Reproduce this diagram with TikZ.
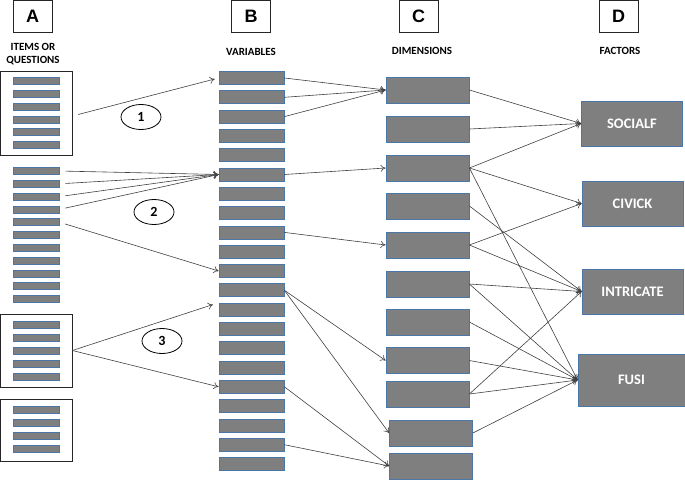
\documentclass[tikz,border=0pt]{standalone}
\usepackage{fontspec}
\setmainfont{Carlito}
\newfontfamily\arialfont{Liberation Sans}
\usetikzlibrary{shapes.geometric,arrows.meta}
\definecolor{boxgray}{HTML}{7F7F7F}
\definecolor{boxblue}{HTML}{4A76A8}
\definecolor{linegray}{HTML}{404040}
\tikzset{
  letterbox/.style={draw=black!85,line width=.8pt,minimum width=39pt,minimum height=32pt,inner sep=0pt,
    font=\arialfont\bfseries\fontsize{18}{18}\selectfont},
  head/.style={font=\bfseries\fontsize{11}{13}\selectfont,align=center,inner sep=0pt},
  bar/.style={draw=boxblue,fill=boxgray,line width=.8pt,inner sep=0pt,minimum width=46pt,minimum height=7pt},
  varbar/.style={bar,minimum width=65pt,minimum height=13pt},
  dimbox/.style={bar,minimum width=83pt,minimum height=26pt},
  facbox/.style={bar,minimum width=101pt,minimum height=45pt,text=white,
    font=\bfseries\fontsize{14.5}{14.5}\selectfont},
  itembox/.style={draw=black!85,line width=.8pt,minimum width=72pt,inner sep=0pt},
  num/.style={ellipse,draw,fill=white,line width=.8pt,minimum width=40pt,minimum height=25pt,inner sep=0pt,
    font=\bfseries\fontsize{14}{14}\selectfont},
  conn/.style={draw=linegray,line width=.6pt,-{To[length=5pt,width=7pt]}}
}
\begin{document}
\begin{tikzpicture}[x=1pt,y=-1pt]
  \useasboundingbox (0,0) rectangle (685,480);
  \foreach \n/\x in {A/32.5,B/251,C/418.5,D/618.5}
    \node[letterbox] (L\n) at (\x,16.8) {\n};
  \foreach \n/\x/\y/\t in {A/33/54.5/{ITEMS OR\\QUESTIONS},B/251/52/VARIABLES,C/422/51/DIMENSIONS,D/620/51/FACTORS}
    \node[head] (H\n) at (\x,\y) {\t};
  \node[itembox,minimum height=84pt] (I1) at (36,113) {};
  \node[itembox,minimum height=73pt] (I3) at (36,350.5) {};
  \node[itembox,minimum height=62pt] (I4) at (36,430) {};
  \foreach \i in {1,...,6} \node[bar] (P\i) at (36,{81+(\i-1)*12.8}) {};
  \foreach \i in {1,...,11} \node[bar] (M\i) at (36,{171+(\i-1)*12.8}) {};
  \foreach \i in {1,...,5} \node[bar] (Q\i) at (36,{325+(\i-1)*13}) {};
  \foreach \i in {1,...,4} \node[bar] (R\i) at (36,{410+(\i-1)*13}) {};
  \foreach \i in {1,...,21} \node[varbar] (V\i) at (251.5,{78+(\i-1)*19.3}) {};
  \foreach \i/\x/\y in {1/427.5/90,2/427.5/129,3/427.5/168,4/427.5/206,5/427.5/245,6/427.5/284,
      7/427.5/322,8/427.5/360.5,9/427.5/394,10/431/433,11/431/466}
    \node[dimbox] (C\i) at (\x,\y) {};
  \node[facbox] (SOCIALF) at (632,123.5) {SOCIALF};
  \node[facbox] (CIVICK) at (632.5,203.5) {CIVICK};
  \node[facbox] (INTRICATE) at (632.5,291.5) {INTRICATE};
  \node[facbox,minimum width=107pt,minimum height=52pt] (FUSI) at (631.5,380) {FUSI};
  \node[num] (N1) at (141,117) {1};
  \node[num] (N2) at (154,212) {2};
  \node[num] (N3) at (162,341) {3};
  \draw[conn,shorten <=6pt,shorten >=4pt] ([yshift=-3pt]I1.east) -- (V1.west);
  \foreach \i in {1,...,4} \draw[conn,shorten <=6pt] (M\i.east) -- (V6.west);
  \draw[conn,shorten <=6pt] (M5.east) -- (V11.west);
  \draw[conn,shorten >=6pt] (I3.east) -- (V13.north west);
  \draw[conn] (I3.east) -- (V17.west);
  \foreach \s/\t in {1/1,2/1,3/1,6/3,9/5,12/8,12/10,17/11,20/11}
    \draw[conn] (V\s.east) -- (C\t.west);
  \foreach \s/\t in {1/SOCIALF,2/SOCIALF,3/SOCIALF,3/CIVICK,3/FUSI,4/INTRICATE,5/CIVICK,5/INTRICATE,
      6/INTRICATE,6/FUSI,7/FUSI,8/FUSI,9/INTRICATE,9/FUSI,10/FUSI}
    \draw[conn] (C\s.east) -- (\t.west);
\end{tikzpicture}
\end{document}
